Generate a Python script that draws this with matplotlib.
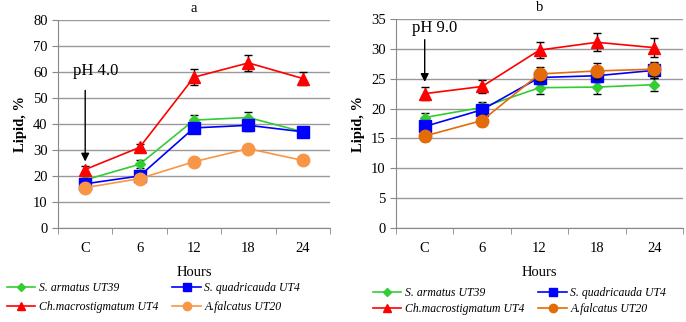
import numpy as np
import matplotlib
matplotlib.use('Agg')
import matplotlib.pyplot as plt
from matplotlib.lines import Line2D

plt.rcParams['font.family'] = ['Liberation Serif', 'DejaVu Serif']

# x categories
hours = ['C', '6', '12', '18', '24']

# panel a (pH 4.0)
a_armatus = [18.5, 24.5, 41.5, 42.5, 37.0]
a_quadri = [17.0, 20.0, 38.5, 39.5, 37.0]
a_macro = [22.5, 31.0, 58.0, 63.5, 57.5]
a_falc = [15.5, 19.0, 25.5, 30.5, 26.0]
a_armatus_err = [1.5, 1.5, 2.0, 2.0, 1.5]
a_quadri_err = [1.5, 1.5, 2.0, 2.0, 1.5]
a_macro_err = [1.5, 1.5, 3.0, 3.0, 2.5]
a_falc_err = [0.8, 0.8, 0.8, 0.8, 0.8]

# panel b (pH 9.0)
b_armatus = [18.5, 20.2, 23.5, 23.6, 24.0]
b_quadri = [17.0, 19.8, 25.2, 25.5, 26.4]
b_macro = [22.5, 23.7, 29.8, 31.1, 30.2]
b_falc = [15.4, 18.0, 25.8, 26.3, 26.6]
b_armatus_err = [0.8, 0.9, 1.1, 1.2, 1.1]
b_quadri_err = [0.9, 1.0, 1.1, 1.1, 1.2]
b_macro_err = [1.1, 1.1, 1.4, 1.5, 1.6]
b_falc_err = [0.8, 0.9, 1.2, 1.3, 1.2]

names = ['S. armatus UT39', 'S. quadricauda UT4', 'Ch.macrostigmatum UT4', 'A.falcatus UT20']
green = '#33CC33'
blue = '#0000FF'
red = '#FF0000'
orange_a = '#F79646'
orange_b = '#E36C09'

fig = plt.figure(figsize=(6.86, 3.22), dpi=100)
ax1 = fig.add_axes([58/686, 94/322, 272/686, 208/322])
ax2 = fig.add_axes([396/686, 94/322, 287/686, 209/322])

x = np.arange(len(hours))


def draw(ax, series, errs, colors, ymax, ystep, title, ph_text, arrow_top, arrow_tip, text_y):
    markers = ['D', 's', '^', 'o']
    sizes = [5, 8, 8, 9]
    order = [3, 0, 1, 2]
    for i in order:
        ax.errorbar(x, series[i], yerr=errs[i], color=colors[i], marker=markers[i],
                    markersize=sizes[i], linewidth=1.2, ecolor='black', elinewidth=1,
                    capsize=3, capthick=1, zorder=3 + i)
    ax.set_xlim(-0.5, 4.5)
    ax.set_ylim(0, ymax)
    ax.set_yticks(np.arange(0, ymax + 0.1, ystep))
    ax.set_xticks(x)
    ax.set_xticklabels(hours)
    ax.set_xticks(np.arange(-0.5, 4.6, 1), minor=True)
    ax.tick_params(axis='x', which='major', length=0, labelsize=10.5, pad=10)
    ax.tick_params(axis='x', which='minor', length=4, color='#888888')
    ax.tick_params(axis='y', length=4, color='#888888', labelsize=10.5)
    ax.yaxis.grid(True, color='#999999', linewidth=1)
    ax.set_axisbelow(True)
    for s in ['top', 'right']:
        ax.spines[s].set_visible(False)
    for s in ['left', 'bottom']:
        ax.spines[s].set_color('#888888')
    ax.set_ylabel('Lipid, %', fontweight='bold', fontsize=10.5)
    ax.set_xlabel('Hours', fontsize=10.5, labelpad=8)
    ax.set_title(title, fontsize=10.5, pad=6)
    ax.annotate('', xy=(0, arrow_tip), xytext=(0, arrow_top),
                arrowprops=dict(arrowstyle='-|>', color='black', lw=1, mutation_scale=12), zorder=10)
    ax.text(-0.22, text_y, ph_text, fontsize=12, ha='left', va='center')


draw(ax1, [a_armatus, a_quadri, a_macro, a_falc],
     [a_armatus_err, a_quadri_err, a_macro_err, a_falc_err],
     [green, blue, red, orange_a], 80, 10, 'a', 'pH 4.0', 54, 24.5, 60.4)
draw(ax2, [b_armatus, b_quadri, b_macro, b_falc],
     [b_armatus_err, b_quadri_err, b_macro_err, b_falc_err],
     [green, blue, red, orange_b], 35, 5, 'b', 'pH 9.0', 32, 24, 33.5)


def legend_for(ax, colors, anchor, spacing):
    markers = ['D', 's', '^', 'o']
    sizes = [4, 6, 6, 6]
    handles = [Line2D([], [], color=colors[i], marker=markers[i], markersize=sizes[i], linewidth=1.2)
               for i in range(4)]
    # column-wise fill: armatus/macro in column 1, quadricauda/falcatus in column 2
    order = [0, 2, 1, 3]
    ax.legend([handles[i] for i in order], [names[i] for i in order],
              loc='upper left', bbox_to_anchor=anchor, ncol=2, frameon=False,
              prop={'style': 'italic', 'size': 8.5}, handlelength=2.4, handletextpad=0.3,
              columnspacing=1.2, labelspacing=spacing, borderaxespad=0, borderpad=0)


legend_for(ax1, [green, blue, red, orange_a], (-51/272, -54/208), 0.6)
legend_for(ax2, [green, blue, red, orange_b], (-23/287, -59/209), 0.35)

fig.savefig('out.png', dpi=100)
